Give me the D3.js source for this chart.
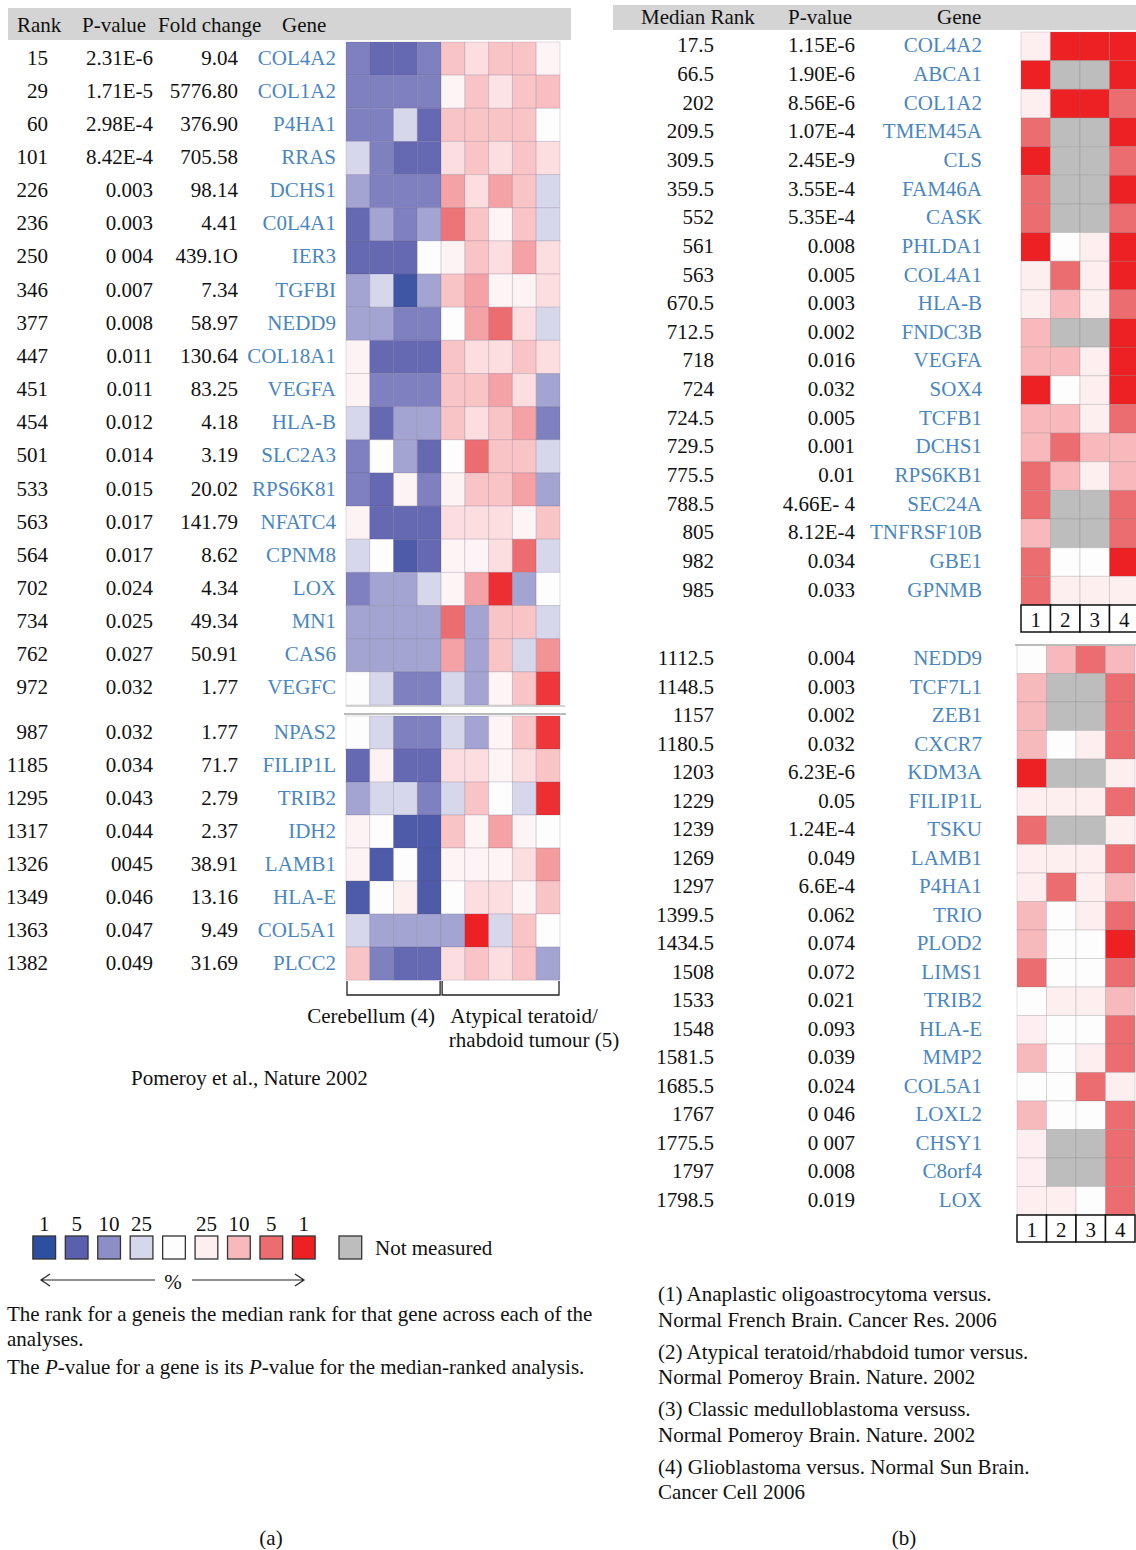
<!DOCTYPE html>
<html>
<head>
<meta charset="utf-8">
<script src="https://cdn.jsdelivr.net/npm/d3@7"></script>
<style>
  body { margin: 0; background: #fff; }
  svg { display: block; font-family: "Liberation Serif", "Times New Roman", serif; }
</style>
</head>
<body>
<svg id="fig"></svg>
<script>
// ---- data (a) Pomeroy ----
var leftRank = ["15","29","60","101","226","236","250","346","377","447","451","454","501","533","563","564","702","734","762","972","987","1185","1295","1317","1326","1349","1363","1382"];
var leftPval = ["2.31E-6","1.71E-5","2.98E-4","8.42E-4","0.003","0.003","0 004","0.007","0.008","0.011","0.011","0.012","0.014","0.015","0.017","0.017","0.024","0.025","0.027","0.032","0.032","0.034","0.043","0.044","0045","0.046","0.047","0.049"];
var leftFold = ["9.04","5776.80","376.90","705.58","98.14","4.41","439.1O","7.34","58.97","130.64","83.25","4.18","3.19","20.02","141.79","8.62","4.34","49.34","50.91","1.77","1.77","71.7","2.79","2.37","38.91","13.16","9.49","31.69"];
var leftGene = ["COL4A2","COL1A2","P4HA1","RRAS","DCHS1","C0L4A1","IER3","TGFBI","NEDD9","COL18A1","VEGFA","HLA-B","SLC2A3","RPS6K81","NFATC4","CPNM8","LOX","MN1","CAS6","VEGFC","NPAS2","FILIP1L","TRIB2","IDH2","LAMB1","HLA-E","COL5A1","PLCC2"];
// level: -4 = blue 1%, 0 = neutral, 4 = red 1% (4 cerebellum + 5 AT/RT samples)
var leftCells = [
  [-2.3,-2.8,-2.8,-2.3, 1.8,1.3,1.8,1.8,0.6],
  [-2.3,-2.3,-2.3,-2.3, 0.6,1.8,1.2,1.8,1.9],
  [-2.3,-2.3,-1,-2.8, 1.8,1.8,1.8,1.8,0],
  [-1,-2.3,-2.8,-2.8, 1.3,1.8,1.3,1.8,1.3],
  [-1.7,-2.3,-2.3,-2.3, 2.3,1.3,2.3,1.8,-1],
  [-2.8,-1.7,-2.3,-1.7, 2.9,1.8,0.6,1.8,-1],
  [-2.8,-2.8,-2.8,0, 0.7,1.8,1.3,2.3,1.3],
  [-1.7,-1,-3.6,-1.7, 1.8,2.3,0.6,0.7,1.3],
  [-1.7,-1.7,-2.3,-2.3, 0,2.3,3,1.3,-1],
  [0.7,-2.8,-2.8,-2.8, 1.8,1.3,1.3,1.8,1.3],
  [0.7,-2.3,-2.3,-2.3, 1.8,1.8,2.3,1.3,-1.7],
  [-1,-2.8,-1.7,-1.7, 1.8,1.3,1.8,2.3,-2.3],
  [-2.3,0,-1.7,-2.8, 0,3,1.8,1.8,-1],
  [-2.3,-2.8,0.7,-2.3, 0.7,1.8,1.8,2.3,-1.7],
  [0.7,-2.8,-2.8,-2.8, 1.3,1.3,1.3,0.6,1.8],
  [-1,0,-3.3,-2.8, 0.6,0.6,1.3,3,-1],
  [-2.3,-1.7,-1.7,-1, 0.6,2.3,3.8,-1.7,0],
  [-1.7,-1.7,-1.7,-1.7, 3,-1.7,1.8,1.8,-1],
  [-1.7,-1.7,-1.7,-1.7, 2.3,-1.7,1.8,-1,2.5],
  [0,-1,-2.3,-2.3, -1,-1.7,0.6,1.8,3.7],
  [0,-1,-2.3,-2.3, -1,-1.7,0.6,1.8,3.7],
  [-2.8,0.8,-2.8,-2.8, 1.3,1.3,0.6,1.3,1.8],
  [-1.7,-1,-1,-2.3, -1,1.8,0,-1,3.8],
  [0.7,0,-3.3,-3.3, 1.8,0.6,2.3,0.6,0],
  [0.7,-3.3,0,-3.3, 0.6,0.6,0.6,1.3,2.4],
  [-3.3,0,1,-3.3, 0,1.3,1.3,0.6,1.8],
  [-1,-1.7,-1.7,-1.7, -1.7,4,-1,1.8,0],
  [1.8,-2.3,-2.8,-2.8, 1.3,1.8,1.3,1.8,-1.7]
];

// ---- data (b) meta-analysis ----
var topRank = ["17.5","66.5","202","209.5","309.5","359.5","552","561","563","670.5","712.5","718","724","724.5","729.5","775.5","788.5","805","982","985"];
var topPval = ["1.15E-6","1.90E-6","8.56E-6","1.07E-4","2.45E-9","3.55E-4","5.35E-4","0.008","0.005","0.003","0.002","0.016","0.032","0.005","0.001","0.01","4.66E- 4","8.12E-4","0.034","0.033"];
var topGene = ["COL4A2","ABCA1","COL1A2","TMEM45A","CLS","FAM46A","CASK","PHLDA1","COL4A1","HLA-B","FNDC3B","VEGFA","SOX4","TCFB1","DCHS1","RPS6KB1","SEC24A","TNFRSF10B","GBE1","GPNMB"];
// null = not measured
var topCells = [
  [1,4,4,4],[4,null,null,4],[1,4,4,3],[3,null,null,4],[4,null,null,3],
  [3,null,null,4],[3,null,null,3],[4,0,1,4],[1,3,1,4],[1,2,1,3],
  [2,null,null,4],[2,2,1,4],[4,0,1,4],[2,2,1,3],[2,3,2,2],
  [3,2,1,2],[3,null,null,3],[2,null,null,3],[3,0,0,4],[3,1,1,1]
];
var botRank = ["1112.5","1148.5","1157","1180.5","1203","1229","1239","1269","1297","1399.5","1434.5","1508","1533","1548","1581.5","1685.5","1767","1775.5","1797","1798.5"];
var botPval = ["0.004","0.003","0.002","0.032","6.23E-6","0.05","1.24E-4","0.049","6.6E-4","0.062","0.074","0.072","0.021","0.093","0.039","0.024","0 046","0 007","0.008","0.019"];
var botGene = ["NEDD9","TCF7L1","ZEB1","CXCR7","KDM3A","FILIP1L","TSKU","LAMB1","P4HA1","TRIO","PLOD2","LIMS1","TRIB2","HLA-E","MMP2","COL5A1","LOXL2","CHSY1","C8orf4","LOX"];
var botCells = [
  [0,2,3,2],[2,null,null,3],[2,null,null,3],[2,0,1,3],[4,null,null,1],
  [1,1,1,3],[3,null,null,1],[1,1,1,3],[1,3,1,2],[2,0,1,3],
  [2,0,0,4],[3,0,0,3],[0,1,1,2],[1,0,0,3],[2,0,1,3],
  [0,0,3,1],[2,0,0,3],[1,null,null,3],[1,null,null,3],[1,1,0,3]
];
var analysisLabels = ["1","2","3","4"];

// ---- legend ----
var legendLevels = [-4,-3,-2,-1,0,1,2,3,4];
var legendLabels = ["1","5","10","25","","25","10","5","1"];
var legendColors = ["#2d4f9f","#5a60ad","#8d8ec6","#d7d7ec","#fdfdfd","#fdeef0","#f8b9bc","#ec6d6f","#ed2024"];
var nmColor = "#bdbdbd";

var W = 1136, H = 1550;
var geneColor = "#4a86c0";
var fs = 21;

var svg = d3.select("#fig").attr("width", W).attr("height", H);

var color = d3.scaleLinear().domain(legendLevels).range(legendColors).clamp(true);
function fillOf(v) { return v === null ? nmColor : color(v); }

// ================= panel (a) =================
svg.append("rect").attr("x", 8).attr("y", 8).attr("width", 563).attr("height", 32).attr("fill", "#d4d4d4");
var headA = [["Rank", 17], ["P-value", 82], ["Fold change", 158], ["Gene", 282]];
svg.append("g").selectAll("text").data(headA).enter().append("text")
  .attr("x", d => d[1]).attr("y", 25).attr("dominant-baseline", "central")
  .attr("font-size", fs).attr("fill", "#111").text(d => d[0]);

var xA = d3.scaleBand().domain(d3.range(9)).range([346, 560]);
var yA1 = d3.scaleBand().domain(d3.range(20)).range([42, 705]);
var yA2 = d3.scaleBand().domain(d3.range(20, 28)).range([716, 980]);
function yA(i) { return i < 20 ? yA1(i) : yA2(i); }
var bwA = yA1.bandwidth();

var rowsA = svg.append("g").selectAll("g").data(leftCells).enter().append("g")
  .attr("transform", (d, i) => `translate(0,${yA(i)})`);

rowsA.selectAll("rect").data(d => d).enter().append("rect")
  .attr("x", (d, j) => xA(j)).attr("y", 0)
  .attr("width", xA.bandwidth()).attr("height", bwA)
  .attr("fill", d => fillOf(d))
  .attr("stroke", "rgba(90,80,110,0.18)").attr("stroke-width", 1);

function colText(g, arr, x, fill) {
  g.append("g").selectAll("text").data(arr).enter().append("text")
    .attr("x", x).attr("y", (d, i) => yA(i) + bwA / 2 - 1)
    .attr("text-anchor", "end").attr("dominant-baseline", "central")
    .attr("font-size", fs).attr("fill", fill).text(d => d);
}
colText(svg, leftRank, 48, "#111");
colText(svg, leftPval, 153, "#111");
colText(svg, leftFold, 238, "#111");
colText(svg, leftGene, 336, geneColor);

// divider lines between blocks
svg.append("line").attr("x1", 346).attr("x2", 565).attr("y1", 706).attr("y2", 706).attr("stroke", "#aaa").attr("stroke-width", 1);
svg.append("line").attr("x1", 344).attr("x2", 566).attr("y1", 714).attr("y2", 714).attr("stroke", "#bbb").attr("stroke-width", 2);

// group brackets
var groups = [{a: 0, b: 3}, {a: 4, b: 8}];
groups.forEach(function(g) {
  var x0 = xA(g.a) + 1, x1 = xA(g.b) + xA.bandwidth() - 1;
  svg.append("path").attr("d", `M${x0},981V995H${x1}V981`)
    .attr("fill", "none").attr("stroke", "#222").attr("stroke-width", 1.3);
});
svg.append("text").attr("x", 435).attr("y", 1016).attr("text-anchor", "end").attr("dominant-baseline", "central")
  .attr("font-size", fs).attr("fill", "#111").text("Cerebellum (4)");
svg.append("text").attr("x", 524).attr("y", 1016).attr("text-anchor", "middle").attr("dominant-baseline", "central")
  .attr("font-size", fs).attr("fill", "#111").text("Atypical teratoid/");
svg.append("text").attr("x", 534).attr("y", 1040).attr("text-anchor", "middle").attr("dominant-baseline", "central")
  .attr("font-size", fs).attr("fill", "#111").text("rhabdoid tumour (5)");

svg.append("text").attr("x", 131).attr("y", 1078).attr("dominant-baseline", "central")
  .attr("font-size", fs).attr("fill", "#111").text("Pomeroy et al., Nature 2002");

// legend
var xL = d3.scaleBand().domain(d3.range(9)).range([28, 320]).paddingInner(0.3).paddingOuter(0.15);
var leg = svg.append("g");
leg.selectAll("rect").data(legendLevels).enter().append("rect")
  .attr("x", (d, i) => xL(i)).attr("y", 1236).attr("width", xL.bandwidth()).attr("height", 23)
  .attr("fill", d => color(d)).attr("stroke", "#333").attr("stroke-width", 1.3);
leg.selectAll("text").data(legendLabels).enter().append("text")
  .attr("x", (d, i) => xL(i) + xL.bandwidth() / 2).attr("y", 1224)
  .attr("text-anchor", "middle").attr("dominant-baseline", "central")
  .attr("font-size", fs).attr("fill", "#111").text(d => d);
leg.append("rect").attr("x", 339).attr("y", 1236).attr("width", xL.bandwidth()).attr("height", 23)
  .attr("fill", nmColor).attr("stroke", "#333").attr("stroke-width", 1.3);
leg.append("text").attr("x", 375).attr("y", 1248).attr("dominant-baseline", "central")
  .attr("font-size", fs).attr("fill", "#111").text("Not measured");
leg.append("path").attr("d", "M155,1280H41M50,1274L41,1280L50,1286M192,1280H304M295,1274L304,1280L295,1286")
  .attr("fill", "none").attr("stroke", "#222").attr("stroke-width", 1.2);
leg.append("text").attr("x", 173).attr("y", 1282).attr("text-anchor", "middle").attr("dominant-baseline", "central")
  .attr("font-size", fs).attr("fill", "#111").text("%");

var noteA = svg.append("g").attr("font-size", fs).attr("fill", "#111");
noteA.append("text").attr("x", 7).attr("y", 1314).attr("dominant-baseline", "central")
  .text("The rank for a geneis the median rank for that gene across each of the");
noteA.append("text").attr("x", 7).attr("y", 1339).attr("dominant-baseline", "central").text("analyses.");
var t3 = noteA.append("text").attr("x", 7).attr("y", 1367).attr("dominant-baseline", "central");
t3.append("tspan").text("The ");
t3.append("tspan").attr("font-style", "italic").text("P");
t3.append("tspan").text("-value for a gene is its ");
t3.append("tspan").attr("font-style", "italic").text("P");
t3.append("tspan").text("-value for the median-ranked analysis.");

svg.append("text").attr("x", 271).attr("y", 1538).attr("text-anchor", "middle").attr("dominant-baseline", "central")
  .attr("font-size", fs).attr("fill", "#111").text("(a)");

// ================= panel (b) =================
svg.append("rect").attr("x", 613).attr("y", 5).attr("width", 523).attr("height", 25).attr("fill", "#d4d4d4");
var headB = [["Median Rank", 641], ["P-value", 788], ["Gene", 937]];
svg.append("g").selectAll("text").data(headB).enter().append("text")
  .attr("x", d => d[1]).attr("y", 17).attr("dominant-baseline", "central")
  .attr("font-size", fs).attr("fill", "#111").text(d => d[0]);

function drawBlock(cells, ranks, pvals, genes, x0, y0, y1) {
  var xb = d3.scaleBand().domain(d3.range(4)).range([x0, x0 + 118]);
  var yb = d3.scaleBand().domain(d3.range(cells.length)).range([y0, y1]);
  var g = svg.append("g");

  var rows = g.selectAll("g.row").data(cells).enter().append("g").attr("class", "row")
    .attr("transform", (d, i) => `translate(0,${yb(i)})`);
  rows.selectAll("rect").data(d => d).enter().append("rect")
    .attr("x", (d, j) => xb(j)).attr("y", 0)
    .attr("width", xb.bandwidth()).attr("height", yb.bandwidth())
    .attr("fill", d => fillOf(d))
    .attr("stroke", "rgba(120,120,120,0.22)").attr("stroke-width", 1);

  var cols = [[ranks, 714, "#111"], [pvals, 855, "#111"], [genes, 982, geneColor]];
  cols.forEach(function(c) {
    g.append("g").selectAll("text").data(c[0]).enter().append("text")
      .attr("x", c[1]).attr("y", (d, i) => yb(i) + yb.bandwidth() / 2 - 1)
      .attr("text-anchor", "end").attr("dominant-baseline", "central")
      .attr("font-size", fs).attr("fill", c[2]).text(d => d);
  });

  // numbered analysis boxes
  var by = y1, bh = 27;
  var box = g.append("g");
  box.selectAll("rect").data(analysisLabels).enter().append("rect")
    .attr("x", (d, i) => xb(i)).attr("y", by)
    .attr("width", xb.bandwidth()).attr("height", bh)
    .attr("fill", "#fff").attr("stroke", "#111").attr("stroke-width", 1.5);
  box.selectAll("text").data(analysisLabels).enter().append("text")
    .attr("x", (d, i) => xb(i) + xb.bandwidth() / 2).attr("y", by + bh / 2 + 1)
    .attr("text-anchor", "middle").attr("dominant-baseline", "central")
    .attr("font-size", fs).attr("fill", "#111").text(d => d);
  return g;
}

drawBlock(topCells, topRank, topPval, topGene, 1021, 32, 605);
drawBlock(botCells, botRank, botPval, botGene, 1017, 645, 1215);
svg.append("line").attr("x1", 1015).attr("x2", 1136).attr("y1", 645).attr("y2", 645).attr("stroke", "#bbb").attr("stroke-width", 2);

var refs = [
  ["(1) Anaplastic oligoastrocytoma versus.", 1294],
  ["Normal French Brain. Cancer Res. 2006", 1320],
  ["(2) Atypical teratoid/rhabdoid tumor versus.", 1352],
  ["Normal Pomeroy Brain. Nature. 2002", 1377],
  ["(3) Classic medulloblastoma versuss.", 1409],
  ["Normal Pomeroy Brain. Nature. 2002", 1435],
  ["(4) Glioblastoma versus. Normal Sun Brain.", 1467],
  ["Cancer Cell 2006", 1492]
];
svg.append("g").selectAll("text").data(refs).enter().append("text")
  .attr("x", 658).attr("y", d => d[1]).attr("dominant-baseline", "central")
  .attr("font-size", fs).attr("fill", "#111").text(d => d[0]);

svg.append("text").attr("x", 904).attr("y", 1538).attr("text-anchor", "middle").attr("dominant-baseline", "central")
  .attr("font-size", fs).attr("fill", "#111").text("(b)");
</script>
</body>
</html>
